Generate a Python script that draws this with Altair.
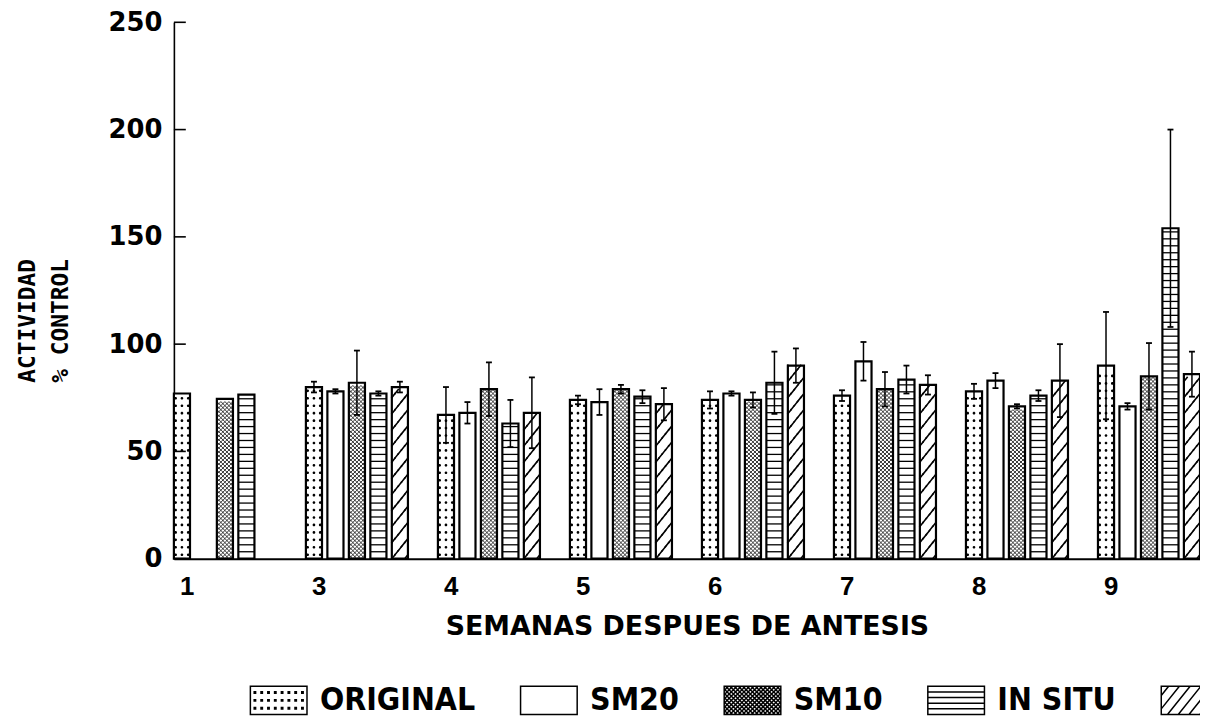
import altair as alt
import pandas as pd

# ---------------- data ----------------
weeks = ["1", "3", "4", "5", "6", "7", "8", "9"]
series = ["ORIGINAL", "SM20", "SM10", "IN SITU", "SERIE 5"]

original = [77, 80, 67, 74, 74, 76, 78, 90]
original_err = [0, 2.5, 13, 2, 4, 2.5, 3.5, 25]
sm20 = [None, 78, 68, 73, 77, 92, 83, 71]
sm20_err = [0, 1, 5, 6, 1, 9, 3.5, 1.5]
sm10 = [74.5, 82, 79, 79, 74, 79, 71, 85]
sm10_err = [0, 15, 12.5, 2, 3.5, 8, 1, 15.5]
in_situ = [76.5, 77, 63, 75.5, 82, 83.5, 76, 154]
in_situ_err = [0, 1, 11, 3, 14.5, 6.5, 2.5, 46]
serie5 = [None, 80, 68, 72, 90, 81, 83, 86]
serie5_err = [0, 2.5, 16.5, 7.5, 8, 4.5, 17, 10.5]

y_ticks = [0, 50, 100, 150, 200, 250]

# ---------------- layout / style constants ----------------
PAD_TOP = 12
W, H = 1033, 540
PX = H / 250.0                      # pixels per unit on the y scale
P_IN = 0.227                        # padding between week groups
OFF_PAD = 0.25                      # padding between bars of a group
STEP = W / (len(weeks) - P_IN)
BAND = STEP * (1 - P_IN)
BW = BAND / (len(series) - OFF_PAD) * (1 - OFF_PAD)   # bar width in px

# ---------------- tables built from the arrays ----------------
rows = []
for s, vals, errs in zip(series,
                         [original, sm20, sm10, in_situ, serie5],
                         [original_err, sm20_err, sm10_err, in_situ_err, serie5_err]):
    for w, v, e in zip(weeks, vals, errs):
        if v is None:
            continue
        rows.append(dict(week=w, series=s, value=v, err=e, lo=v - e, hi=v + e))
bars = pd.DataFrame(rows)

caps = []
for r in rows:
    if r["err"] > 0:
        caps.append(dict(week=r["week"], series=r["series"], y=r["lo"]))
        caps.append(dict(week=r["week"], series=r["series"], y=r["hi"]))
caps = pd.DataFrame(caps)
errs = bars[bars["err"] > 0]

PATTERN = {"ORIGINAL": "dots", "SM20": None, "SM10": "cross",
           "IN SITU": "hlines", "SERIE 5": "hatch"}

pat = []
for r in rows:
    vpx = r["value"] * PX
    kind = PATTERN[r["series"]]
    if kind == "dots":
        y = 4.0
        while y <= vpx - 3:
            pat.append(dict(week=r["week"], series=r["series"], y=y / PX, kind=kind, phase=0))
            y += 7.5
    elif kind == "hlines":
        y = 7.0
        while y <= vpx - 2:
            pat.append(dict(week=r["week"], series=r["series"], y=y / PX, kind=kind, phase=0))
            y += 7.0
    elif kind in ("cross", "hatch"):
        hs = BW / 4.0
        k = 0
        while (k + 1) * hs <= vpx + 0.5:
            pat.append(dict(week=r["week"], series=r["series"], y=(k + 0.5) * hs / PX,
                            kind=kind, phase=k % 4))
            k += 1
pat = pd.DataFrame(pat)

# ---------------- pattern shapes (unit box -1..1) ----------------
def f(v):
    return f"{v:.3f}"

def circle(x, y, r):
    return (f"M{f(x - r)},{f(y)}A{f(r)},{f(r)} 0 1 0 {f(x + r)},{f(y)}"
            f"A{f(r)},{f(r)} 0 1 0 {f(x - r)},{f(y)}Z")

rdot = 1.35 / (BW / 2)
DOT_ROW = "".join(circle(x, 0, rdot) for x in (-0.78, 0.0, 0.78))
HLINE = "M-1,0L1,0"
CROSS = "".join(f"M{f(a)},0.25L{f(a + 0.5)},-0.25M{f(a)},-0.25L{f(a + 0.5)},0.25"
                for a in (-1, -0.5, 0, 0.5))

def hatch_strip(ph):
    segs = []
    for j in range(-3, 4):
        xb = -1 + ph * 0.4 + j * 1.6
        xa, xe = max(xb, -1.0), min(xb + 0.4, 1.0)
        if xe <= xa:
            continue
        ya = 0.25 - 0.5 * (xa - xb) / 0.4
        ye = 0.25 - 0.5 * (xe - xb) / 0.4
        segs.append(f"M{f(xa)},{f(ya)}L{f(xe)},{f(ye)}")
    return "".join(segs) or "M0,0"

HATCH = [hatch_strip(p) for p in range(4)]

# legend swatches (57 x 28 px boxes)
RECT = "M-1,-0.5H1V0.5H-1Z"

def clip_line(x0, y0, dx, dy):
    ts = []
    for (p, d, lo, hi) in ((x0, dx, -1, 1), (y0, dy, -0.5, 0.5)):
        if abs(d) < 1e-9:
            if p < lo or p > hi:
                return None
            continue
        t1, t2 = (lo - p) / d, (hi - p) / d
        ts.append((min(t1, t2), max(t1, t2)))
    ta = max(t[0] for t in ts)
    tb = min(t[1] for t in ts)
    if tb - ta < 1e-3:
        return None
    return (f"M{f(x0 + ta * dx)},{f(y0 + ta * dy)}"
            f"L{f(x0 + tb * dx)},{f(y0 + tb * dy)}")

def dot_sq(x, y, d=0.025):
    return f"M{f(x - d)},{f(y - d)}H{f(x + d)}V{f(y + d)}H{f(x - d)}Z"

sw_orig = RECT + "".join(dot_sq(-0.84 + i * 0.24, yy) for i in range(8) for yy in (-0.28, 0.0, 0.28))
sw_sm20 = RECT
sw_sm10 = RECT + "".join(filter(None, [clip_line(c, 0, 1, 1) for c in
                                      [i * 0.15 for i in range(-12, 13)]] +
                                     [clip_line(c, 0, 1, -1) for c in
                                      [i * 0.15 for i in range(-12, 13)]]))
sw_insitu = RECT + "".join(f"M-1,{f(yy)}H1" for yy in (-0.3, -0.1, 0.1, 0.3))
sw_hatch = RECT + "".join(filter(None, [clip_line(c, 0, 0.8, -1) for c in
                                       [i * 0.38 for i in range(-6, 7)]]))
SWATCHES = [sw_orig, sw_sm20, sw_sm10, sw_insitu, sw_hatch]

# ---------------- encodings ----------------
x_axis = alt.Axis(
    title="SEMANAS DESPUES DE ANTESIS", labelAngle=0, ticks=False,
    domainColor="black", domainWidth=2,
    labelFont="Liberation Sans", labelFontWeight="bold", labelFontSize=26,
    labelColor="black", labelPadding=15, labelOffset=-38,
    titleFont="DejaVu Sans", titleFontWeight="bold", titleFontSize=27,
    titleColor="black", titlePadding=14,
)
X = alt.X("week:N", sort=weeks, axis=x_axis,
          scale=alt.Scale(paddingInner=P_IN, paddingOuter=0, round=False))
XO = alt.XOffset("series:N", sort=series,
                 scale=alt.Scale(domain=series, paddingInner=OFF_PAD, paddingOuter=0, round=False))

y_axis = alt.Axis(
    values=y_ticks, ticks=False, grid=False,
    domainColor="black", domainWidth=1.6,
    labelFont="DejaVu Sans", labelFontWeight="bold", labelFontSize=26,
    labelColor="black", labelPadding=12,
    title=["ACTIVIDAD", "% CONTROL"], titleFont="DejaVu Sans Mono",
    titleFontWeight="bold", titleFontSize=23, titleLineHeight=33,
    titleColor="black", titleAngle=270, titleAlign="center",
    titleBaseline="alphabetic", titleX=-140, titleY=300,
)
YS = alt.Scale(domain=[0, 250], nice=False, zero=True)

def Y(field):
    return alt.Y(field, scale=YS, axis=y_axis)

# ---------------- layers ----------------
bar_fill = alt.Chart(bars).mark_bar(color="white", strokeWidth=0).encode(
    x=X, xOffset=XO, y=Y("value:Q"))

pbase = alt.Chart(pat)
pat_layers = [
    pbase.transform_filter(alt.datum.kind == "dots").mark_point(
        shape=DOT_ROW, size=BW * BW, filled=True, color="black", opacity=1,
        strokeWidth=0).encode(x=X, xOffset=XO, y=Y("y:Q")),
    pbase.transform_filter(alt.datum.kind == "hlines").mark_point(
        shape=HLINE, size=BW * BW, filled=False, color="black", opacity=1,
        strokeWidth=1.3).encode(x=X, xOffset=XO, y=Y("y:Q")),
    pbase.transform_filter(alt.datum.kind == "cross").mark_point(
        shape=CROSS, size=BW * BW, filled=False, color="black", opacity=1,
        strokeWidth=0.8).encode(x=X, xOffset=XO, y=Y("y:Q")),
]
for ph in range(4):
    pat_layers.append(
        pbase.transform_filter((alt.datum.kind == "hatch") & (alt.datum.phase == ph)).mark_point(
            shape=HATCH[ph], size=BW * BW, filled=False, color="black", opacity=1,
            strokeWidth=1.6, strokeCap="square").encode(x=X, xOffset=XO, y=Y("y:Q")))

bar_line = alt.Chart(bars).mark_bar(fill="white", fillOpacity=0, stroke="black",
                                    strokeWidth=2.2).encode(
    x=X, xOffset=XO, y=Y("value:Q"))

err_rule = alt.Chart(errs).mark_rule(color="black", strokeWidth=1.5).encode(
    x=X, xOffset=XO, y=Y("lo:Q"), y2="hi:Q")

err_cap = alt.Chart(caps).mark_point(shape="M-1,0L1,0", size=36, filled=False,
                                     color="black", opacity=1, strokeWidth=1.8).encode(
    x=X, xOffset=XO, y=Y("y:Q"))

ticks = alt.Chart(pd.DataFrame({"t": y_ticks})).mark_rule(
    color="black", strokeWidth=1.6).encode(
    y=Y("t:Q"), x=alt.value(0), x2=alt.value(12))

legend_layer = alt.Chart(bars).mark_point(opacity=0, filled=False, color="black").encode(
    x=X, xOffset=XO, y=Y("value:Q"),
    shape=alt.Shape("series:N", sort=series,
                    scale=alt.Scale(domain=series, range=SWATCHES),
                    legend=alt.Legend(
                        title=None, orient="none", legendX=76, legendY=653,
                        direction="horizontal", columns=5, columnPadding=42,
                        padding=0, rowPadding=0,
                        symbolSize=57 * 57, symbolStrokeWidth=1.5,
                        symbolStrokeColor="black", symbolFillColor="transparent",
                        symbolOpacity=1, labelOffset=12,
                        labelExpr="datum.label == 'SERIE 5' ? '' : datum.label",
                        labelFont="'DejaVu Sans Condensed', 'Liberation Sans'",
                        labelFontWeight="bold", labelFontSize=32, labelColor="black",
                        labelLimit=400)))

chart = alt.layer(bar_fill, *pat_layers, bar_line, err_rule, err_cap, ticks,
                  legend_layer).properties(
    width=W, height=H,
    autosize=alt.AutoSizeParams(type="none"),
    padding={"left": 167, "top": PAD_TOP, "right": 0, "bottom": 714 - PAD_TOP - H},
    background="white",
).configure_view(stroke=None)

chart.save("out.html", embed_options={"renderer": "svg", "actions": False})
